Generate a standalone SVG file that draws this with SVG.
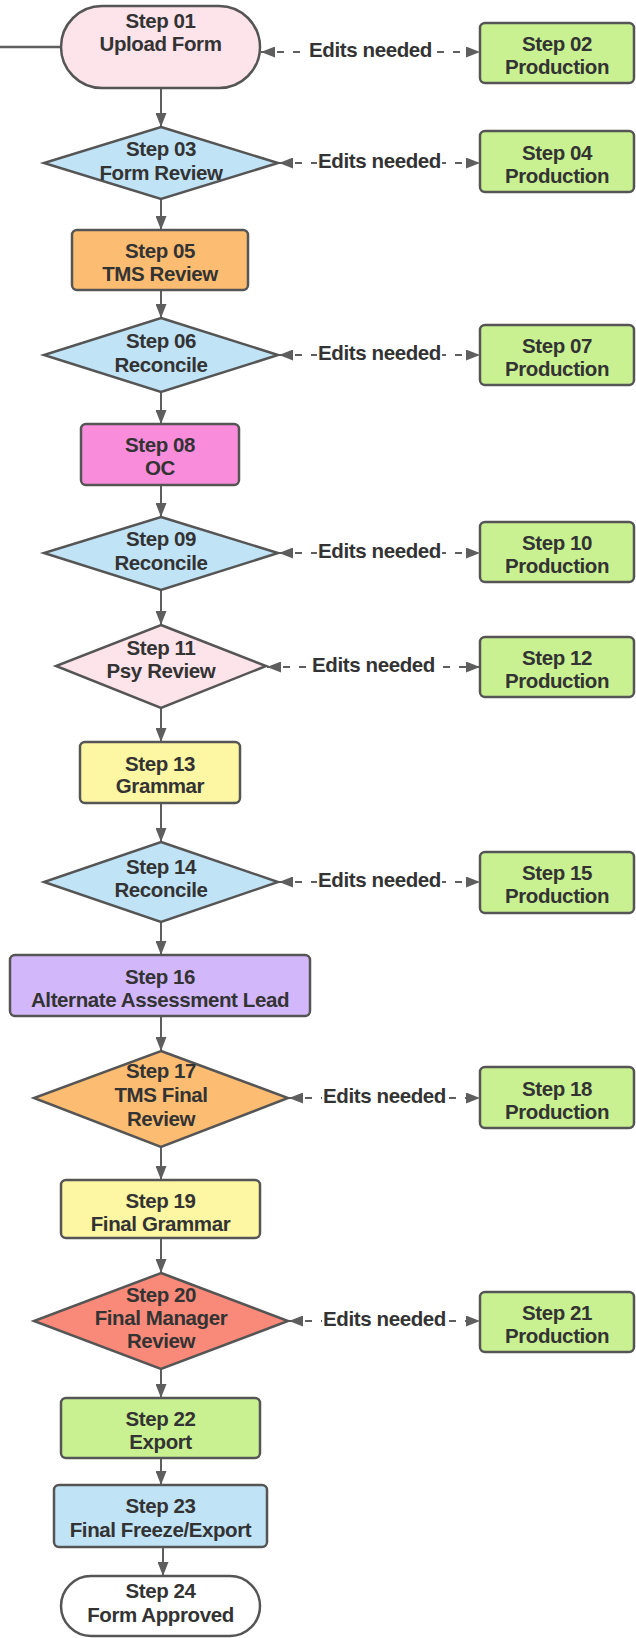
<svg xmlns="http://www.w3.org/2000/svg" width="636" height="1638" viewBox="0 0 636 1638">
  <style>
    .shape { stroke: #555555; stroke-width: 2.5; }
    .pink { fill: #fde3ea; }
    .green { fill: #c9f191; }
    .blue { fill: #c1e3f6; }
    .orange { fill: #fcbd72; }
    .magenta { fill: #f98ddc; }
    .yellow { fill: #fdf6a2; }
    .lavender { fill: #d2b8fa; }
    .salmon { fill: #f98a7a; }
    .white { fill: #ffffff; }
    text { font-family: "Liberation Sans", Arial, sans-serif; font-weight: bold; font-size: 20.5px; letter-spacing: -0.4px; fill: #333333; text-anchor: middle; }
    .flow { stroke: #5e5e5e; stroke-width: 2; fill: none; marker-end: url(#head); }
    .edit { stroke: #5e5e5e; stroke-width: 2; fill: none; stroke-dasharray: 7 9; marker-start: url(#head); marker-end: url(#head); }
    .lead { stroke: #5e5e5e; stroke-width: 2.5; fill: none; }
    .lblbg { fill: #ffffff; }
  </style>
  <defs>
    <marker id="head" markerUnits="userSpaceOnUse" markerWidth="15" markerHeight="11" refX="14" refY="5.5" orient="auto-start-reverse">
      <path d="M0,0 L14,5.5 L0,11 Z" fill="#5e5e5e"/>
    </marker>
  </defs>
  <rect width="636" height="1638" fill="#ffffff"/>

  <!-- connectors -->
  <g id="connectors">
    <line class="lead" x1="0" y1="47" x2="61" y2="47"/>
    <line class="flow" x1="161" y1="88" x2="161" y2="127"/>
    <line class="flow" x1="161" y1="199" x2="161" y2="230"/>
    <line class="flow" x1="161" y1="290" x2="161" y2="318"/>
    <line class="flow" x1="161" y1="392" x2="161" y2="424"/>
    <line class="flow" x1="161" y1="485" x2="161" y2="517"/>
    <line class="flow" x1="161" y1="590" x2="161" y2="625"/>
    <line class="flow" x1="161" y1="708" x2="161" y2="742"/>
    <line class="flow" x1="161" y1="803" x2="161" y2="842"/>
    <line class="flow" x1="161" y1="922" x2="161" y2="955"/>
    <line class="flow" x1="161" y1="1016" x2="161" y2="1051"/>
    <line class="flow" x1="161" y1="1147" x2="161" y2="1180"/>
    <line class="flow" x1="161" y1="1238" x2="161" y2="1273"/>
    <line class="flow" x1="161" y1="1369" x2="161" y2="1398"/>
    <line class="flow" x1="161" y1="1458" x2="161" y2="1485"/>
    <line class="flow" x1="163" y1="1547" x2="163" y2="1576"/>

    <!-- "Edits needed" loops to production -->
    <g id="edit-02">
      <line class="edit" x1="261" y1="52" x2="480" y2="52"/>
      <rect class="lblbg" x="308" y="40" width="125" height="22"/>
      <text x="370.5" y="57">Edits needed</text>
    </g>
    <g id="edit-04">
      <line class="edit" x1="279" y1="163" x2="480" y2="163"/>
      <rect class="lblbg" x="317" y="151" width="125" height="22"/>
      <text x="379.5" y="168">Edits needed</text>
    </g>
    <g id="edit-07">
      <line class="edit" x1="279" y1="355" x2="480" y2="355"/>
      <rect class="lblbg" x="317" y="343" width="125" height="22"/>
      <text x="379.5" y="360">Edits needed</text>
    </g>
    <g id="edit-10">
      <line class="edit" x1="279" y1="553" x2="480" y2="553"/>
      <rect class="lblbg" x="317" y="541" width="125" height="22"/>
      <text x="379.5" y="558">Edits needed</text>
    </g>
    <g id="edit-12">
      <line class="edit" x1="267" y1="667" x2="480" y2="667"/>
      <rect class="lblbg" x="311" y="655" width="125" height="22"/>
      <text x="373.5" y="672">Edits needed</text>
    </g>
    <g id="edit-15">
      <line class="edit" x1="279" y1="882" x2="480" y2="882"/>
      <rect class="lblbg" x="317" y="870" width="125" height="22"/>
      <text x="379.5" y="887">Edits needed</text>
    </g>
    <g id="edit-18">
      <line class="edit" x1="289" y1="1098" x2="480" y2="1098"/>
      <rect class="lblbg" x="322" y="1086" width="125" height="22"/>
      <text x="384.5" y="1103">Edits needed</text>
    </g>
    <g id="edit-21">
      <line class="edit" x1="289" y1="1321" x2="480" y2="1321"/>
      <rect class="lblbg" x="322" y="1309" width="125" height="22"/>
      <text x="384.5" y="1326">Edits needed</text>
    </g>
  </g>

  <!-- main flow nodes -->
  <g id="step01">
    <rect class="shape pink" x="61" y="6" width="199" height="82" rx="41"/>
    <text x="160.5" y="28">Step 01</text>
    <text x="160.5" y="51">Upload Form</text>
  </g>
  <g id="step03">
    <polygon class="shape blue" points="161,127 278,163 161,199 44,163"/>
    <text x="161" y="156">Step 03</text>
    <text x="161" y="180">Form Review</text>
  </g>
  <g id="step05">
    <rect class="shape orange" x="72" y="230" width="176" height="60" rx="5"/>
    <text x="160" y="258">Step 05</text>
    <text x="160" y="281">TMS Review</text>
  </g>
  <g id="step06">
    <polygon class="shape blue" points="161,318 278,355 161,392 44,355"/>
    <text x="161" y="348">Step 06</text>
    <text x="161" y="372">Reconcile</text>
  </g>
  <g id="step08">
    <rect class="shape magenta" x="81" y="424" width="158" height="61" rx="5"/>
    <text x="160" y="452">Step 08</text>
    <text x="160" y="475">OC</text>
  </g>
  <g id="step09">
    <polygon class="shape blue" points="161,517 278,553 161,590 44,553"/>
    <text x="161" y="546">Step 09</text>
    <text x="161" y="570">Reconcile</text>
  </g>
  <g id="step11">
    <polygon class="shape pink" points="161,625 266,666 161,708 56,666"/>
    <text x="161" y="655">Step 11</text>
    <text x="161" y="678">Psy Review</text>
  </g>
  <g id="step13">
    <rect class="shape yellow" x="80" y="742" width="160" height="61" rx="5"/>
    <text x="160" y="771">Step 13</text>
    <text x="160" y="793">Grammar</text>
  </g>
  <g id="step14">
    <polygon class="shape blue" points="161,842 278,882 161,922 44,882"/>
    <text x="161" y="874">Step 14</text>
    <text x="161" y="897">Reconcile</text>
  </g>
  <g id="step16">
    <rect class="shape lavender" x="10" y="955" width="300" height="61" rx="5"/>
    <text x="160" y="984">Step 16</text>
    <text x="160" y="1007">Alternate Assessment Lead</text>
  </g>
  <g id="step17">
    <polygon class="shape orange" points="161,1051 288,1098 161,1147 34,1098"/>
    <text x="161" y="1078">Step 17</text>
    <text x="161" y="1102">TMS Final</text>
    <text x="161" y="1126">Review</text>
  </g>
  <g id="step19">
    <rect class="shape yellow" x="61" y="1180" width="199" height="58" rx="5"/>
    <text x="160.5" y="1208">Step 19</text>
    <text x="160.5" y="1231">Final Grammar</text>
  </g>
  <g id="step20">
    <polygon class="shape salmon" points="161,1273 288,1321 161,1369 34,1321"/>
    <text x="161" y="1302">Step 20</text>
    <text x="161" y="1325">Final Manager</text>
    <text x="161" y="1348">Review</text>
  </g>
  <g id="step22">
    <rect class="shape green" x="61" y="1398" width="199" height="60" rx="5"/>
    <text x="160.5" y="1426">Step 22</text>
    <text x="160.5" y="1449">Export</text>
  </g>
  <g id="step23">
    <rect class="shape blue" x="54" y="1485" width="213" height="62" rx="5"/>
    <text x="160.5" y="1513">Step 23</text>
    <text x="160.5" y="1537">Final Freeze/Export</text>
  </g>
  <g id="step24">
    <rect class="shape white" x="61" y="1576" width="199" height="60" rx="30"/>
    <text x="160.5" y="1598">Step 24</text>
    <text x="160.5" y="1622">Form Approved</text>
  </g>

  <!-- production nodes -->
  <g id="step02">
    <rect class="shape green" x="480" y="23" width="154" height="60" rx="5"/>
    <text x="557" y="51">Step 02</text>
    <text x="557" y="74">Production</text>
  </g>
  <g id="step04">
    <rect class="shape green" x="480" y="131" width="154" height="61" rx="5"/>
    <text x="557" y="160">Step 04</text>
    <text x="557" y="183">Production</text>
  </g>
  <g id="step07">
    <rect class="shape green" x="480" y="325" width="154" height="60" rx="5"/>
    <text x="557" y="353">Step 07</text>
    <text x="557" y="376">Production</text>
  </g>
  <g id="step10">
    <rect class="shape green" x="480" y="522" width="154" height="60" rx="5"/>
    <text x="557" y="550">Step 10</text>
    <text x="557" y="573">Production</text>
  </g>
  <g id="step12">
    <rect class="shape green" x="480" y="637" width="154" height="60" rx="5"/>
    <text x="557" y="665">Step 12</text>
    <text x="557" y="688">Production</text>
  </g>
  <g id="step15">
    <rect class="shape green" x="480" y="852" width="154" height="61" rx="5"/>
    <text x="557" y="880">Step 15</text>
    <text x="557" y="903">Production</text>
  </g>
  <g id="step18">
    <rect class="shape green" x="480" y="1067" width="154" height="61" rx="5"/>
    <text x="557" y="1096">Step 18</text>
    <text x="557" y="1119">Production</text>
  </g>
  <g id="step21">
    <rect class="shape green" x="480" y="1292" width="154" height="60" rx="5"/>
    <text x="557" y="1320">Step 21</text>
    <text x="557" y="1343">Production</text>
  </g>
</svg>
